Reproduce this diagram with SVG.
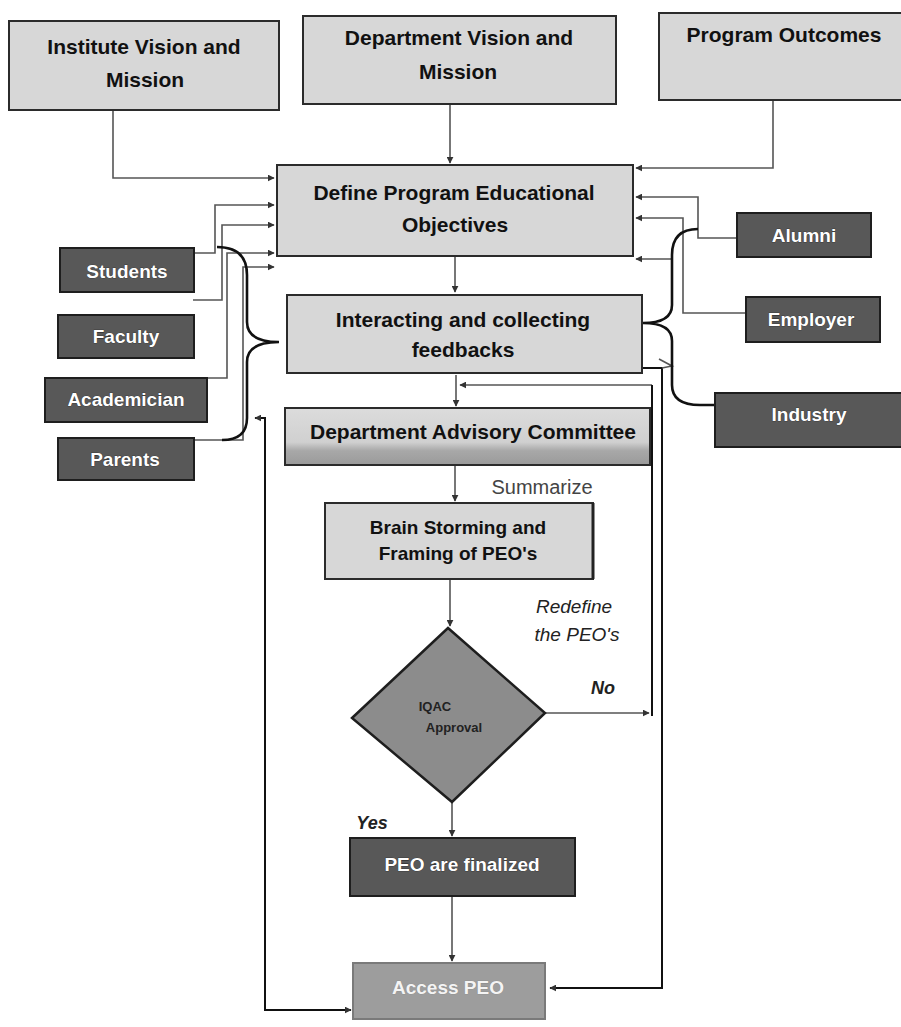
<svg xmlns="http://www.w3.org/2000/svg" width="901" height="1027" viewBox="0 0 901 1027">
<defs>
<style>
.lbox{fill:#d7d7d7;stroke:#2b2b2b;stroke-width:2}
.dbox{fill:#585858;stroke:#1e1e1e;stroke-width:2}
.t{font-family:"Liberation Sans",Arial,sans-serif;font-weight:bold;font-size:21px;fill:#111;text-anchor:middle}
.tw{font-family:"Liberation Sans",Arial,sans-serif;font-weight:bold;font-size:19px;fill:#fff;text-anchor:middle;stroke:#222;stroke-width:0.6;paint-order:stroke}
.lbl{font-family:"Liberation Sans",Arial,sans-serif;font-size:19px;fill:#222;text-anchor:middle}
.c{fill:none;stroke:#555;stroke-width:1.6}
.cd{fill:none;stroke:#111;stroke-width:2}
.br{fill:none;stroke:#111;stroke-width:2.6}
</style>
<marker id="ah" viewBox="0 0 10 10" refX="9" refY="5" markerWidth="7" markerHeight="7" markerUnits="userSpaceOnUse" orient="auto-start-reverse">
<path d="M0,0 L10,5 L0,10 z" fill="#333"/>
</marker>
<linearGradient id="dacg" x1="0" y1="0" x2="0" y2="1">
<stop offset="0" stop-color="#dcdcdc"/>
<stop offset="0.6" stop-color="#d0d0d0"/>
<stop offset="0.75" stop-color="#a8a8a8"/>
<stop offset="1" stop-color="#9a9a9a"/>
</linearGradient>
</defs>
<rect width="901" height="1027" fill="#fff"/>

<g id="connectors">
<path class="c" d="M113 110 V178 H274" marker-end="url(#ah)"/>
<path class="c" d="M450 104 V163" marker-end="url(#ah)"/>
<path class="c" d="M773 100 V168 H636" marker-end="url(#ah)"/>
<path class="c" d="M194 253 H215 V205 H274" marker-end="url(#ah)"/>
<path class="c" d="M193 300 H222 V225 H274" marker-end="url(#ah)"/>
<path class="c" d="M207 378 H227 V253 H274" marker-end="url(#ah)"/>
<path class="c" d="M194 440 H243 V267 H274" marker-end="url(#ah)"/>
<path class="c" d="M737 238 H698 V197 H636" marker-end="url(#ah)"/>
<path class="c" d="M746 313 H683 V218 H636" marker-end="url(#ah)"/>
<path class="c" d="M672 259 H636" marker-end="url(#ah)"/>
<path class="c" d="M455 256 V292" marker-end="url(#ah)"/>
<path class="c" d="M456 375 V406" marker-end="url(#ah)"/>
<path class="c" d="M455 466 V501" marker-end="url(#ah)"/>
<path class="c" d="M450 579 V626" marker-end="url(#ah)"/>
<path class="c" d="M452 802 V836" marker-end="url(#ah)"/>
<path class="c" d="M452 896 V961" marker-end="url(#ah)"/>
<path class="c" d="M545 713 H649" marker-end="url(#ah)"/>
<path class="c" d="M652 385 H460" marker-end="url(#ah)"/>
<path class="cd" d="M652 716 V385"/>
<path class="cd" d="M641 368 H662 V988 H550" marker-end="url(#ah)"/>
<path class="c" d="M659 359 L672 366 L662 368"/>
<path class="cd" d="M255 418 H265 V1010 H351" marker-start="url(#ah)" marker-end="url(#ah)"/>
<path class="br" d="M217 247 Q247 247 247 275 L247 322 Q247 342 279 342 Q247 342 247 362 L247 418 Q247 440 222 440"/>
<path class="br" d="M698 229 Q672 229 672 255 L672 305 Q672 323 643 323 Q672 323 672 341 L672 385 Q672 405 700 405 L714 405"/>
</g>

<g id="institute">
<rect class="lbox" x="9" y="21" width="270" height="89"/>
<text class="t" x="144" y="54">Institute Vision and</text>
<text class="t" x="145" y="87">Mission</text>
</g>
<g id="department">
<rect class="lbox" x="303" y="16" width="313" height="88"/>
<text class="t" x="459" y="45">Department Vision and</text>
<text class="t" x="458" y="79">Mission</text>
</g>
<g id="outcomes">
<rect class="lbox" x="659" y="13" width="250" height="87"/>
<text class="t" x="784" y="42">Program Outcomes</text>
</g>
<g id="define">
<rect class="lbox" x="277" y="165" width="356" height="91"/>
<text class="t" x="454" y="200">Define Program Educational</text>
<text class="t" x="455" y="232">Objectives</text>
</g>
<g id="interacting">
<rect class="lbox" x="287" y="295" width="355" height="78"/>
<text class="t" x="463" y="327">Interacting and collecting</text>
<text class="t" x="463" y="357">feedbacks</text>
</g>
<g id="dac">
<rect x="285" y="408" width="365" height="57" fill="url(#dacg)" stroke="#2b2b2b" stroke-width="2"/>
<text class="t" x="473" y="439">Department Advisory Committee</text>
</g>
<g id="brain">
<rect class="lbox" x="325" y="503" width="268" height="76"/>
<line x1="593" y1="503" x2="593" y2="579" stroke="#222" stroke-width="3"/>
<text class="t" style="font-size:19px" x="458" y="534">Brain Storming and</text>
<text class="t" style="font-size:19px" x="458" y="560">Framing of PEO's</text>
</g>
<g id="iqac">
<polygon points="448,628 545,713 452,802 352,718" fill="#8c8c8c" stroke="#1e1e1e" stroke-width="2.5"/>
<text class="t" style="font-size:13px;fill:#222" x="435" y="711">IQAC</text>
<text class="t" style="font-size:13px;fill:#222" x="454" y="732">Approval</text>
</g>
<g id="finalized">
<rect class="dbox" x="350" y="838" width="225" height="58"/>
<text class="tw" x="462" y="871">PEO are finalized</text>
</g>
<g id="access">
<rect x="353" y="963" width="192" height="56" fill="#9d9d9d" stroke="#7a7a7a" stroke-width="2"/>
<text class="tw" style="fill:#f4f4f4;stroke:#888" x="448" y="994">Access PEO</text>
</g>
<g id="students">
<rect class="dbox" x="60" y="248" width="134" height="44"/>
<text class="tw" x="127" y="278">Students</text>
</g>
<g id="faculty">
<rect class="dbox" x="58" y="315" width="136" height="43"/>
<text class="tw" x="126" y="343">Faculty</text>
</g>
<g id="academician">
<rect class="dbox" x="45" y="378" width="162" height="44"/>
<text class="tw" x="126" y="406">Academician</text>
</g>
<g id="parents">
<rect class="dbox" x="58" y="438" width="136" height="42"/>
<text class="tw" x="125" y="466">Parents</text>
</g>
<g id="alumni">
<rect class="dbox" x="737" y="213" width="134" height="44"/>
<text class="tw" x="804" y="242">Alumni</text>
</g>
<g id="employer">
<rect class="dbox" x="746" y="297" width="134" height="45"/>
<text class="tw" x="811" y="326">Employer</text>
</g>
<g id="industry">
<rect class="dbox" x="715" y="393" width="194" height="54"/>
<text class="tw" x="809" y="421">Industry</text>
</g>
<g id="labels">
<text class="lbl" style="font-size:20px;fill:#444" x="542" y="494">Summarize</text>
<text class="lbl" style="font-style:italic" x="574" y="613">Redefine</text>
<text class="lbl" style="font-style:italic" x="577" y="641">the PEO's</text>
<text class="lbl" style="font-style:italic;font-weight:bold;font-size:18px" x="603" y="694">No</text>
<text class="lbl" style="font-style:italic;font-weight:bold;font-size:18px" x="372" y="829">Yes</text>
</g>
</svg>
